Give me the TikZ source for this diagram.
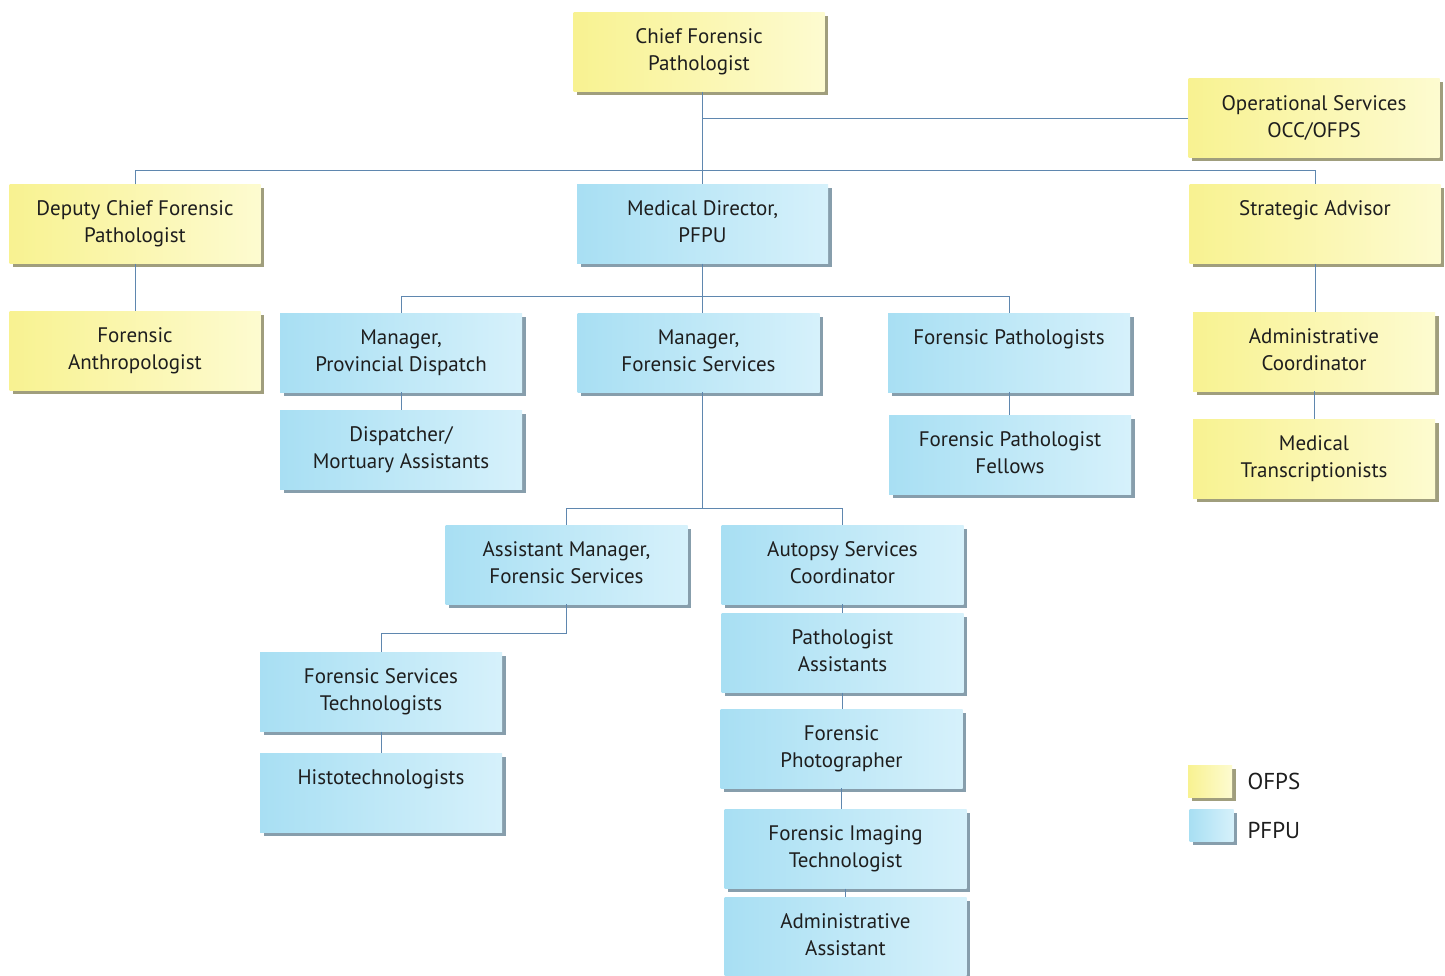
\documentclass[tikz,border=0pt]{standalone}
\usepackage{fontspec}
\setmainfont{PT Sans}
\usepackage{tikz}
\usetikzlibrary{shadows}
\definecolor{ofpsleft}{RGB}{248,242,145}
\definecolor{ofpsright}{RGB}{253,251,208}
\definecolor{pfpuleft}{RGB}{168,223,243}
\definecolor{pfpuright}{RGB}{214,241,251}
\definecolor{ofpsshade}{RGB}{160,158,125}
\definecolor{pfpushade}{RGB}{135,158,172}
\definecolor{linkblue}{RGB}{95,135,175}
\definecolor{labeltext}{RGB}{30,30,30}
\newcommand{\toptext}[1]{\parbox[c][46pt][t]{238pt}{\centering #1}}

\begin{document}
\begin{tikzpicture}[x=1pt, y=-1pt, font=\fontsize{21}{27}\selectfont, text=labeltext,
		box/.style={minimum width=242pt, minimum height=79pt, inner sep=0pt},
		wide/.style={minimum width=251pt},
		ofps/.style={box, left color=ofpsleft, right color=ofpsright, general shadow={fill=ofpsshade, shadow xshift=3.5pt, shadow yshift=-3.5pt}},
		pfpu/.style={box, left color=pfpuleft, right color=pfpuright, general shadow={fill=pfpushade, shadow xshift=3.5pt, shadow yshift=-3.5pt}},
		conn/.style={draw=linkblue, line width=0.9pt}]
		\useasboundingbox (0, 0) rectangle (1445, 976);
		\node [ofps, wide] (chief) at (699, 52) {\toptext{Chief Forensic\\Pathologist}};
		\node [ofps, wide] (opsvc) at (1314, 118.5) {\toptext{Operational Services\\OCC/OFPS}};
		\node [ofps, wide] (deputy) at (135, 224) {\toptext{Deputy Chief Forensic\\Pathologist}};
		\node [pfpu, wide] (meddir) at (702.5, 224) {\toptext{Medical Director,\\PFPU}};
		\node [ofps, wide] (strategic) at (1315, 224) {\toptext{Strategic Advisor}};
		\node [ofps, wide] (anthro) at (135, 351) {\toptext{Forensic\\Anthropologist}};
		\node [pfpu] (mgrdisp) at (401, 352.5) {\toptext{Manager,\\Provincial Dispatch}};
		\node [pfpu] (mgrfs) at (698.5, 352.5) {\toptext{Manager,\\Forensic Services}};
		\node [pfpu] (fpath) at (1009, 352.5) {\toptext{Forensic Pathologists}};
		\node [ofps] (admcoord) at (1314, 351.5) {\toptext{Administrative\\Coordinator}};
		\node [pfpu] (dispatch) at (401, 450) {\toptext{Dispatcher/\\Mortuary Assistants}};
		\node [pfpu] (fellows) at (1010, 454.5) {\toptext{Forensic Pathologist\\Fellows}};
		\node [ofps] (medtrans) at (1314, 458.5) {\toptext{Medical\\Transcriptionists}};
		\node [pfpu] (asstmgr) at (566.5, 564.5) {\toptext{Assistant Manager,\\Forensic Services}};
		\node [pfpu] (autopsy) at (842.5, 564.5) {\toptext{Autopsy Services\\Coordinator}};
		\node [pfpu] (fstech) at (381, 692) {\toptext{Forensic Services\\Technologists}};
		\node [pfpu] (histo) at (381, 793) {\toptext{Histotechnologists}};
		\node [pfpu] (pathasst) at (842.5, 653) {\toptext{Pathologist\\Assistants}};
		\node [pfpu] (photo) at (841.5, 748.5) {\toptext{Forensic\\Photographer}};
		\node [pfpu] (imaging) at (845.5, 849) {\toptext{Forensic Imaging\\Technologist}};
		\node [pfpu] (admasst) at (845.5, 937) {\toptext{Administrative\\Assistant}};
		\node [ofps, minimum width=44pt, minimum height=32pt] (legofps) at (1210, 781) {};
		\node [pfpu, minimum width=44pt, minimum height=32pt] (legpfpu) at (1211.5, 825.5) {};
		\node [anchor=west, font=\fontsize{23}{27}\selectfont] (legofpstext) at (1244, 781) {OFPS};
		\node [anchor=west, font=\fontsize{23}{27}\selectfont] (legpfputext) at (1244, 830) {PFPU};
		\coordinate (bus1) at (0, 170);
		\coordinate (bus2) at (0, 296);
		\coordinate (bus3) at (0, 508);
		\coordinate (bus4) at (0, 633);
		\draw [conn] (meddir.north |- chief.south) -- (meddir.north);
		\draw [conn] (meddir.north |- opsvc.west) -- (opsvc.west);
		\draw [conn] (deputy.north) -- (deputy.north |- bus1) -- (strategic.north |- bus1) -- (strategic.north);
		\draw [conn] (deputy.south) -- (anthro.north);
		\draw [conn] (strategic.south) -- (strategic.south |- admcoord.north);
		\draw [conn] (admcoord.south) -- (medtrans.north);
		\draw [conn] (meddir.south) -- (meddir.south |- mgrfs.north);
		\draw [conn] (mgrdisp.north) -- (mgrdisp.north |- bus2) -- (fpath.north |- bus2) -- (fpath.north);
		\draw [conn] (mgrdisp.south) -- (dispatch.north);
		\draw [conn] (fpath.south) -- (fpath.south |- fellows.north);
		\draw [conn] (meddir.south |- mgrfs.south) -- (meddir.south |- bus3);
		\draw [conn] (asstmgr.north) -- (asstmgr.north |- bus3) -- (autopsy.north |- bus3) -- (autopsy.north);
		\draw [conn] (asstmgr.south) -- (asstmgr.south |- bus4) -- (fstech.north |- bus4) -- (fstech.north);
		\draw [conn] (fstech.south) -- (histo.north);
		\foreach \a/\b in {autopsy/pathasst, pathasst/photo, photo/imaging, imaging/admasst}
			\draw [conn] (\a.south) -- (\a.south |- \b.north);
	\end{tikzpicture}
\end{document}
